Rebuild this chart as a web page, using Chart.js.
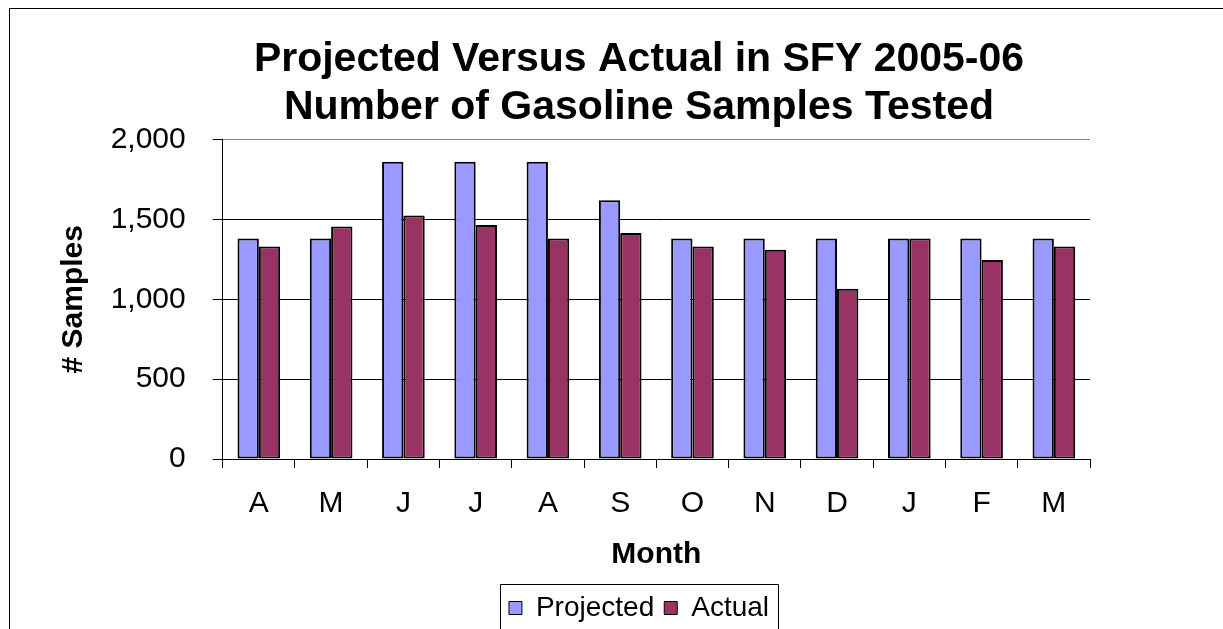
<!DOCTYPE html>
<html>
<head>
<meta charset="utf-8">
<script src="https://cdn.jsdelivr.net/npm/chart.js@4/dist/chart.umd.min.js"></script>
<style>
  html, body { margin: 0; padding: 0; background: #fff; }
  #wrap { width: 1223px; height: 629px; position: relative; }
</style>
</head>
<body>
<div id="wrap"><canvas id="c" width="1223" height="629"></canvas></div>
<script>
const categories = ['A', 'M', 'J', 'J', 'A', 'S', 'O', 'N', 'D', 'J', 'F', 'M'];
const projected = [1380, 1380, 1860, 1860, 1860, 1620, 1380, 1380, 1380, 1380, 1380, 1380];
const actual = [1330, 1455, 1525, 1465, 1380, 1415, 1330, 1310, 1065, 1380, 1245, 1330];
const yTicks = [0, 500, 1000, 1500, 2000];
const titleLines = ['Projected Versus Actual in SFY 2005-06', 'Number of Gasoline Samples Tested'];

const FONT = "'Liberation Sans', Arial, sans-serif";

const framePlugin = {
  id: 'frame',
  beforeDraw(chart) {
    const ctx = chart.ctx;
    ctx.save();
    ctx.fillStyle = '#fff';
    ctx.fillRect(0, 0, chart.width, chart.height);
    ctx.strokeStyle = '#000';
    ctx.lineWidth = 1;
    ctx.strokeRect(9.5, 8.5, chart.width + 50, chart.height + 50);
    ctx.restore();
  },
  afterDraw(chart) {
    const lg = chart.legend;
    if (!lg || !lg.legendHitBoxes || !lg.legendHitBoxes.length) return;
    const hb = lg.legendHitBoxes;
    let l = Infinity, r = -Infinity;
    hb.forEach(b => { l = Math.min(l, b.left); r = Math.max(r, b.left + b.width); });
    const ctx = chart.ctx;
    ctx.save();
    ctx.strokeStyle = '#000';
    ctx.lineWidth = 1;
    const x0 = Math.round(l - 9) + 0.5, x1 = Math.round(r + 9) + 0.5, y0 = Math.round(lg.top) + 0.5;
    ctx.beginPath();
    ctx.moveTo(x0, chart.height + 5);
    ctx.lineTo(x0, y0);
    ctx.lineTo(x1, y0);
    ctx.lineTo(x1, chart.height + 5);
    ctx.stroke();
    ctx.restore();
  }
};

new Chart(document.getElementById('c'), {
  type: 'bar',
  data: {
    labels: categories,
    datasets: [
      { label: 'Projected', data: projected, backgroundColor: '#9999FF', borderColor: '#000', borderWidth: 2, borderSkipped: false, yAxisID: 'y' },
      { label: 'Actual', data: actual, backgroundColor: '#993366', borderColor: '#000', borderWidth: 2, borderSkipped: false, yAxisID: 'y' }
    ]
  },
  options: {
    responsive: false,
    animation: false,
    devicePixelRatio: 1,
    layout: { padding: { left: 55, right: 0, top: 0, bottom: -3 } },
    datasets: { bar: { categoryPercentage: 0.59, barPercentage: 1.0 } },
    plugins: {
      tooltip: { enabled: false },
      title: {
        display: true,
        text: titleLines,
        color: '#000',
        font: { family: FONT, size: 41, weight: 'bold', lineHeight: '48px' },
        padding: { top: 36, bottom: 7.5 }
      },
      legend: {
        display: true,
        position: 'bottom',
        labels: {
          color: '#000',
          font: { family: FONT, size: 28 },
          boxWidth: 13,
          boxHeight: 13,
          padding: 10,
          generateLabels: (chart) => Chart.defaults.plugins.legend.labels.generateLabels(chart).map(l => Object.assign(l, { lineWidth: 1 }))
        }
      }
    },
    scales: {
      x: {
        position: 'bottom',
        offset: true,
        afterFit(scale) { scale.height = 125; },
        grid: {
          offset: true,
          drawOnChartArea: true,
          color: (ctx) => ctx.index === categories.length ? '#808080' : 'rgba(0,0,0,0)',
          tickColor: '#000',
          tickLength: 9,
          lineWidth: 1
        },
        border: { display: true, color: '#000', width: 1 },
        ticks: { color: '#000', font: { family: FONT, size: 30, lineHeight: 1.2 }, padding: 18, maxRotation: 0, autoSkip: false },
        title: { display: true, text: 'Month', color: '#000', font: { family: FONT, size: 30, weight: 'bold', lineHeight: 1 }, padding: { top: 0, bottom: 14 } }
      },
      y: {
        position: 'left',
        min: 0,
        max: 2000,
        afterFit(scale) { scale.width = 167.7; },
        afterBuildTicks(scale) { scale.ticks = yTicks.map(v => ({ value: v })); },
        grid: {
          color: (ctx) => (ctx.tick && ctx.tick.value === 2000) ? '#808080' : (ctx.tick && ctx.tick.value === 0 ? 'rgba(0,0,0,0)' : '#000'),
          tickColor: '#000',
          tickLength: 10,
          lineWidth: 1
        },
        border: { display: true, color: '#000', width: 1 },
        ticks: { color: '#000', font: { family: FONT, size: 30 }, padding: 27,
          callback: (v) => Number(v).toLocaleString('en-US') },
        title: { display: true, text: '# Samples', color: '#000', font: { family: FONT, size: 30, weight: 'bold', lineHeight: 1 }, padding: { top: 4, bottom: 0 } }
      },
      yRight: {
        position: 'right',
        display: true,
        afterFit(scale) { scale.width = 133; },
        grid: { display: false, drawTicks: false },
        border: { display: false },
        ticks: { display: false }
      }
    }
  },
  plugins: [framePlugin]
});
</script>
</body>
</html>
